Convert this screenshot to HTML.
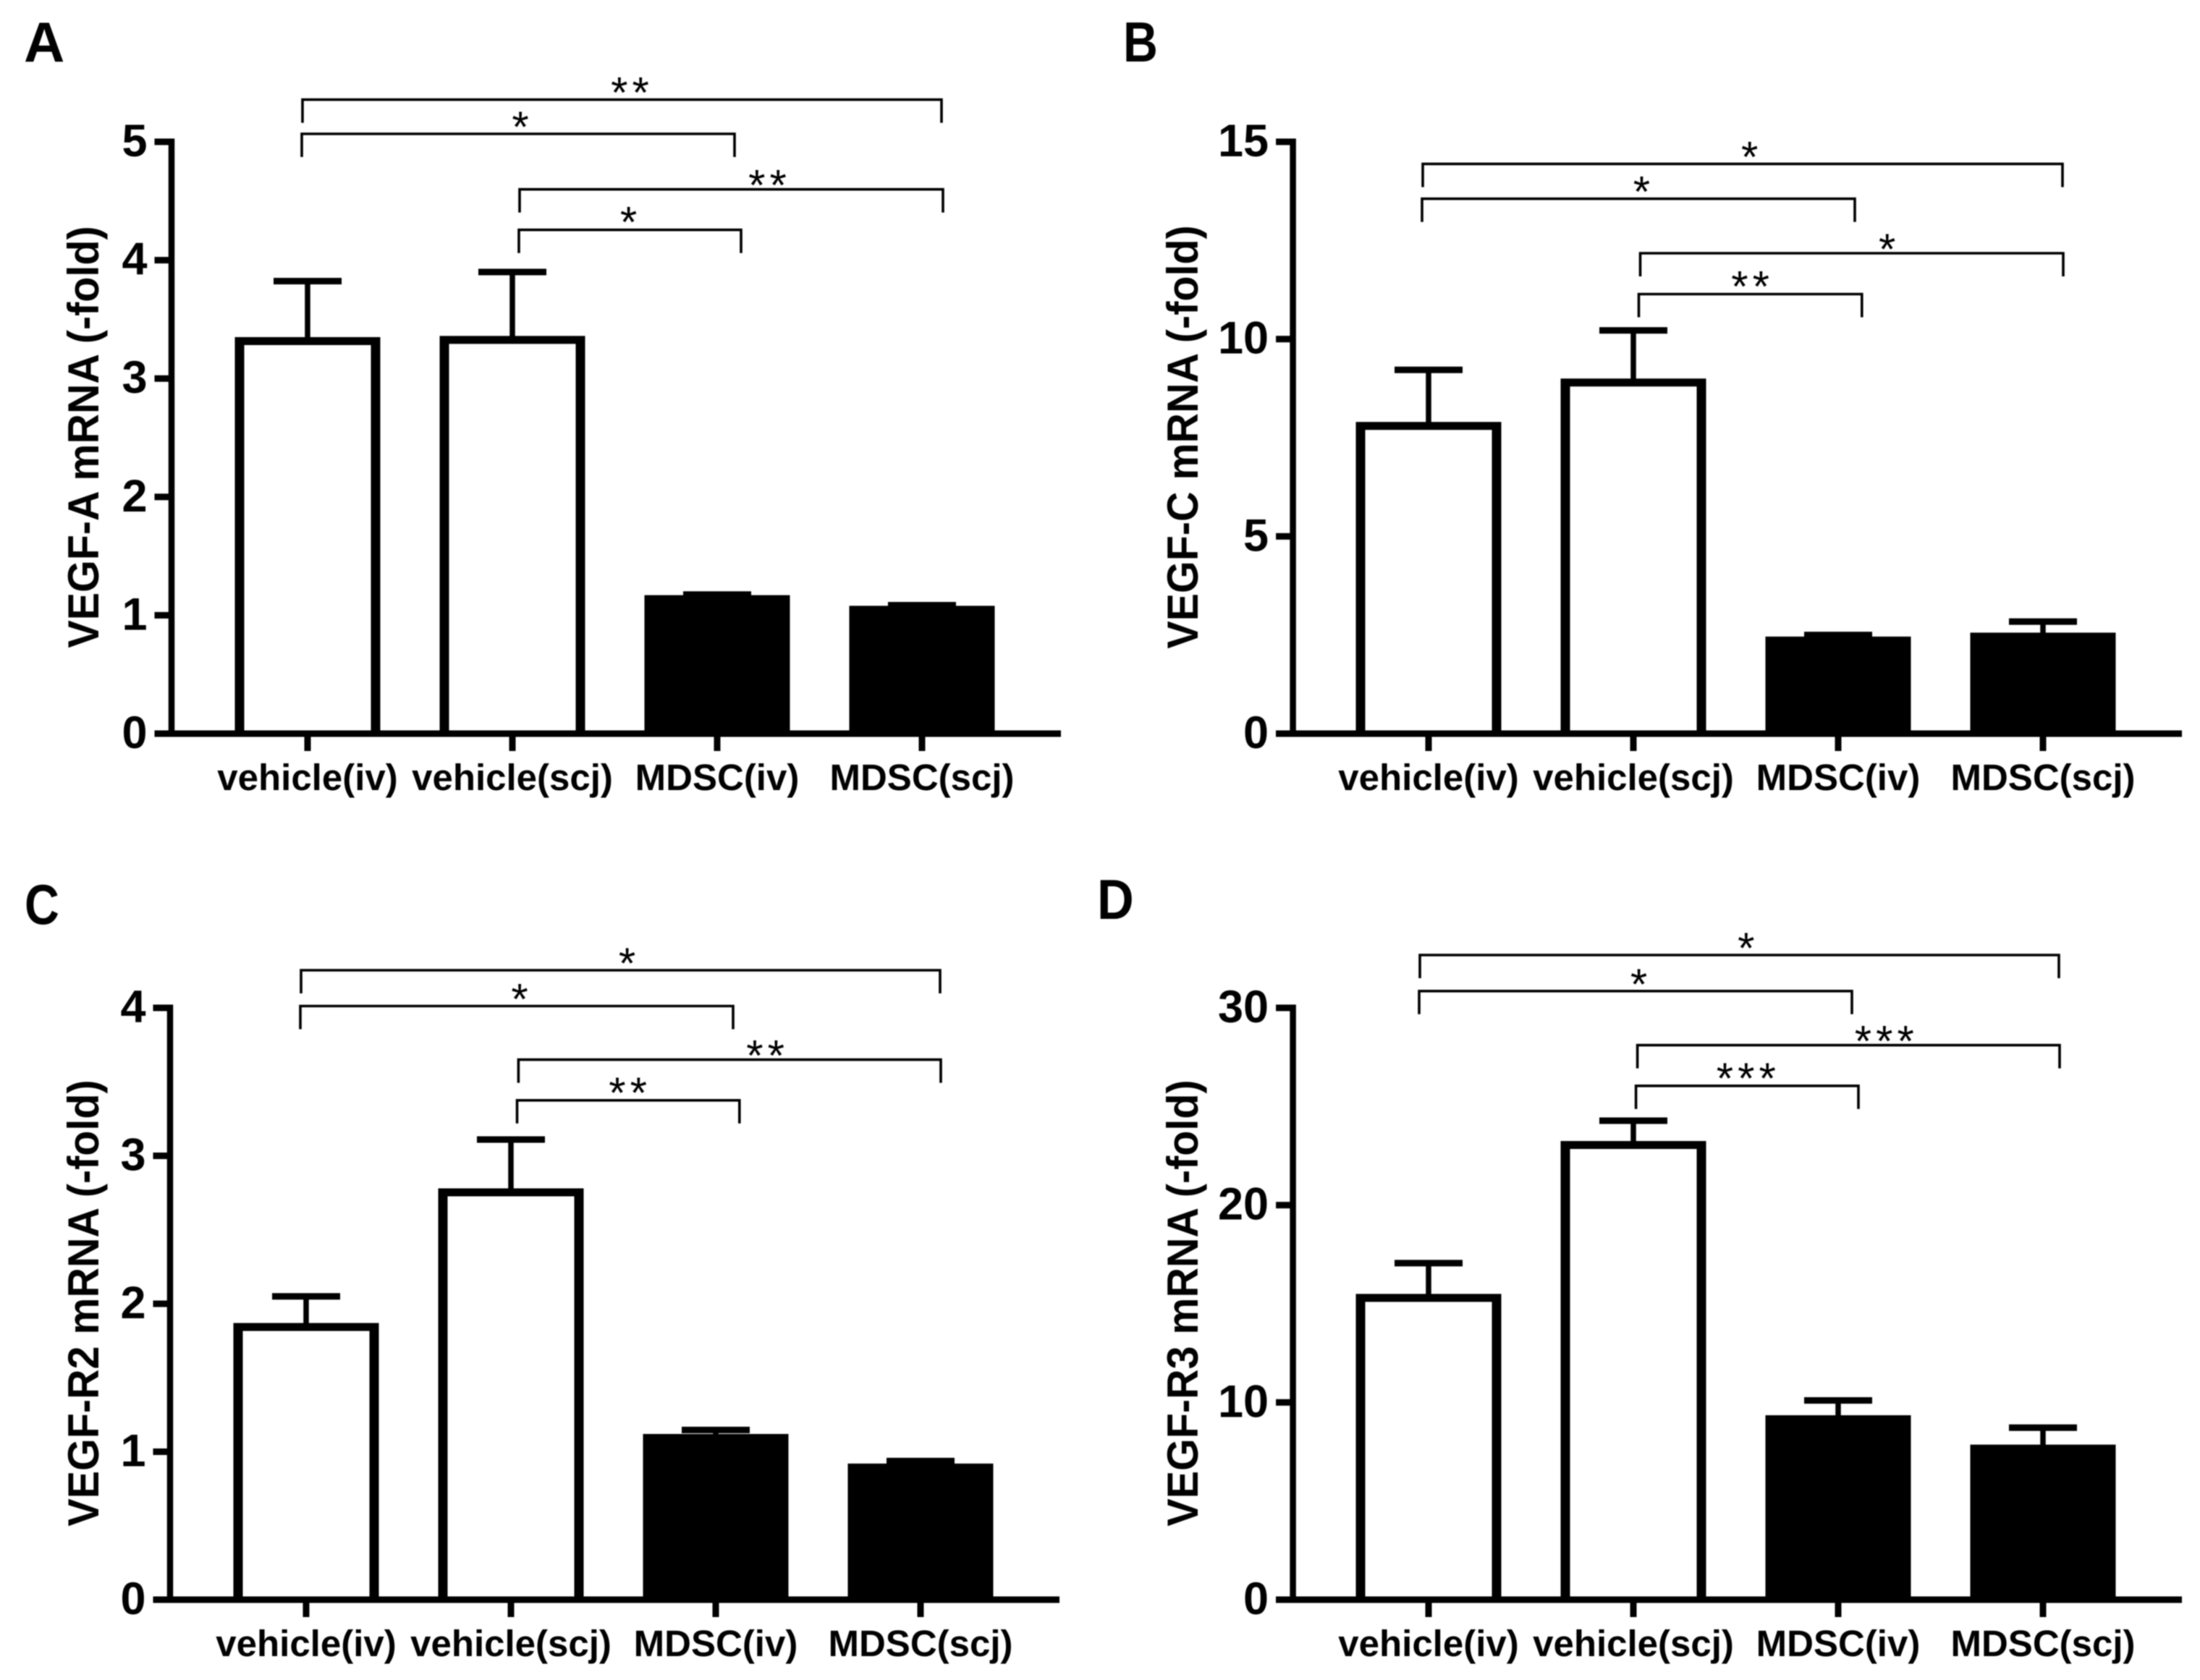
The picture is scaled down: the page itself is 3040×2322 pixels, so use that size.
<!DOCTYPE html>
<html lang="en">
<head>
<meta charset="utf-8">
<title>VEGF mRNA expression bar charts</title>
<style>
  html, body { margin: 0; padding: 0; background: #fff; }
  body { width: 3040px; height: 2322px; overflow: hidden; }
  svg { display: block; filter: blur(0.7px); }
  text { font-family: "Liberation Sans", sans-serif; fill: #000; }
  .bold { font-weight: 700; }
</style>
</head>
<body>
<svg id="figure" xmlns="http://www.w3.org/2000/svg" width="3040" height="2322" viewBox="0 0 3040 2322">
  <rect x="0" y="0" width="3040" height="2322" fill="#fff"/>
</svg>
<script>
// Shared categories
const categories = ["vehicle(iv)", "vehicle(scj)", "MDSC(iv)", "MDSC(scj)"];

// Panel A
const ticksA = [0, 1, 2, 3, 4, 5];
const meansA = [3.35, 3.36, 1.17, 1.08];
const upperA = [3.823, 3.90, 1.175, 1.085];
// Panel B
const ticksB = [0, 5, 10, 15];
const meansB = [7.9, 9.0, 2.46, 2.56];
const upperB = [9.22, 10.22, 2.5, 2.84];
// Panel C
const ticksC = [0, 1, 2, 3, 4];
const meansC = [1.87, 2.78, 1.12, 0.92];
const upperC = [2.05, 3.11, 1.147, 0.937];
// Panel D
const ticksD = [0, 10, 20, 30];
const meansD = [15.5, 23.25, 9.35, 7.86];
const upperD = [17.06, 24.28, 10.1, 8.72];

// Significance labels, in bracket order
const sigA = ["**", "*", "**", "*"];
const sigB = ["*", "*", "*", "**"];
const sigC = ["*", "*", "**", "**"];
const sigD = ["*", "*", "***", "***"];

// Vertical nudge of the significance label above each bracket, in bracket order
const sigLift = [19, 19, 15, 20];

const panels = [
  { id: "a", letter: "A", letterX: 33, letterY: 85, letterScale: 1, title: "VEGF-A mRNA (-fold)", ticks: ticksA, means: meansA, upper: upperA, sig: sigA,
    axisX: 237, firstBar: 425, yTop: 196, yZero: 1014, xEnd: 1466, titleX: 136,
    brackets: [[418,1301,137.7,870.5],[417,1015,185,719],[718,1303,261.7,1060.5],[717,1024,317.7,868.6]] },
  { id: "b", letter: "B", letterX: 1552, letterY: 85, letterScale: 0.85, title: "VEGF-C mRNA (-fold)", ticks: ticksB, means: meansB, upper: upperB, sig: sigB,
    axisX: 1786.6, firstBar: 1974, yTop: 196, yZero: 1014, xEnd: 3015, titleX: 1655,
    brackets: [[1966,2850,226.6,2417.7],[1965,2563,274.7,2268.4],[2266.5,2851,350,2607.7],[2264.5,2572.8,406.5,2418.6]] },
  { id: "c", letter: "C", letterX: 34, letterY: 1277, letterScale: 0.85, title: "VEGF-R2 mRNA (-fold)", ticks: ticksC, means: meansC, upper: upperC, sig: sigC,
    axisX: 235, firstBar: 423, yTop: 1393, yZero: 2211, xEnd: 1464, titleX: 136,
    brackets: [[416,1299,1341,866.6],[415,1013,1390.5,718],[716.4,1300,1464.6,1057.6],[714.5,1021.8,1520.8,867.6]] },
  { id: "d", letter: "D", letterX: 1516, letterY: 1270, letterScale: 0.9, title: "VEGF-R3 mRNA (-fold)", ticks: ticksD, means: meansD, upper: upperD, sig: sigD,
    axisX: 1786.6, firstBar: 1974, yTop: 1393, yZero: 2211, xEnd: 3015, titleX: 1655,
    brackets: [[1962,2845,1320,2412.8],[1961,2559,1369.8,2264.5],[2262.6,2846,1444.6,2603.8],[2260.6,2568,1500.8,2412.8]] }
];

const SVG_NS = "http://www.w3.org/2000/svg";
const root = document.getElementById("figure");
const BAR_STEP = 283, BAR_W = 201, SIDE = 13, TOP = 11, AXIS_W = 9;

function make(tag, attrs, parent) {
  const node = document.createElementNS(SVG_NS, tag);
  for (const k in attrs) node.setAttribute(k, attrs[k]);
  parent.appendChild(node);
  return node;
}

panels.forEach(function (p) {
  const maxTick = p.ticks[p.ticks.length - 1];
  const yScale = function (v) { return p.yZero - (v / maxTick) * (p.yZero - p.yTop); };
  const xScale = function (i) { return p.firstBar + i * BAR_STEP; };

  const g = make("g", {}, root);
  
  

  const letter = make("text", { transform: "translate(" + p.letterX + "," + p.letterY + ") scale(" + p.letterScale + ",1)", "font-size": 78, "class": "bold" }, g);
  letter.textContent = p.letter;
  
  

  // Bars
  categories.forEach(function (cat, i) {
    const cx = xScale(i), top = yScale(p.means[i]);
    const outer = make("rect", { x: cx - BAR_W / 2, y: top, width: BAR_W, height: p.yZero - top, fill: "#000" }, g);
    
    
    if (i < 2) {
      const inner = make("rect", { x: cx - BAR_W / 2 + SIDE, y: top + TOP, width: BAR_W - 2 * SIDE, height: Math.max(0, p.yZero - top - TOP), fill: "#fff" }, g);
      
      
    }
    const capY = yScale(p.upper[i]);
    const stem = make("rect", { x: cx - 3.75, y: capY, width: 7.5, height: Math.max(0, top - capY + 2), fill: "#000" }, g);
    
    
    const cap = make("rect", { x: cx - 47, y: capY - 4.5, width: 94, height: 9, fill: "#000" }, g);
    
    

    const tick = make("rect", { x: cx - 4.5, y: p.yZero, width: 9, height: 24, fill: "#000" }, g);
    
    
    const lab = make("text", { x: cx, y: p.yZero + 78, "font-size": 51, "text-anchor": "middle", "class": "bold" }, g);
    lab.textContent = cat;
    
    
  });

  // Axes
  const xAxis = make("rect", { x: p.axisX - 23.5, y: p.yZero - AXIS_W / 2, width: p.xEnd - p.axisX + 23.5, height: AXIS_W, fill: "#000" }, g);
  
  
  const yAxis = make("rect", { x: p.axisX - 4.25, y: p.yTop - 4.5, width: 8.5, height: p.yZero - p.yTop + 9, fill: "#000" }, g);
  
  

  p.ticks.forEach(function (t) {
    const y = yScale(t);
    const tk = make("rect", { x: p.axisX - 23.5, y: y - 4.5, width: 23.5, height: 9, fill: "#000" }, g);
    
    
    const tl = make("text", { x: p.axisX - 33.5, y: y + 20, "font-size": 63, "text-anchor": "end", "class": "bold" }, g);
    tl.textContent = String(t);
    
    
  });

  // Y-axis title
  const cy = (p.yTop + p.yZero) / 2 - 1;
  const title = make("text", { transform: "translate(" + p.titleX + "," + cy + ") rotate(-90) scale(0.958,1)", "font-size": 60, "text-anchor": "middle", "class": "bold" }, g);
  title.textContent = p.title;
  
  

  // Significance brackets
  p.brackets.forEach(function (b, i) {
    const path = make("path", { d: "M" + b[0] + " " + (b[2] + 32) + "V" + b[2] + "H" + b[1] + "V" + (b[2] + 32), fill: "none", stroke: "#000", "stroke-width": 3.6 }, g);
    
    
    const star = make("text", { x: b[3] + 3, y: b[2] + 30 - sigLift[i], "font-size": 60, "text-anchor": "middle", "letter-spacing": 6 }, g);
    star.textContent = p.sig[i];
    
    
  });
});
</script>
</body>
</html>
